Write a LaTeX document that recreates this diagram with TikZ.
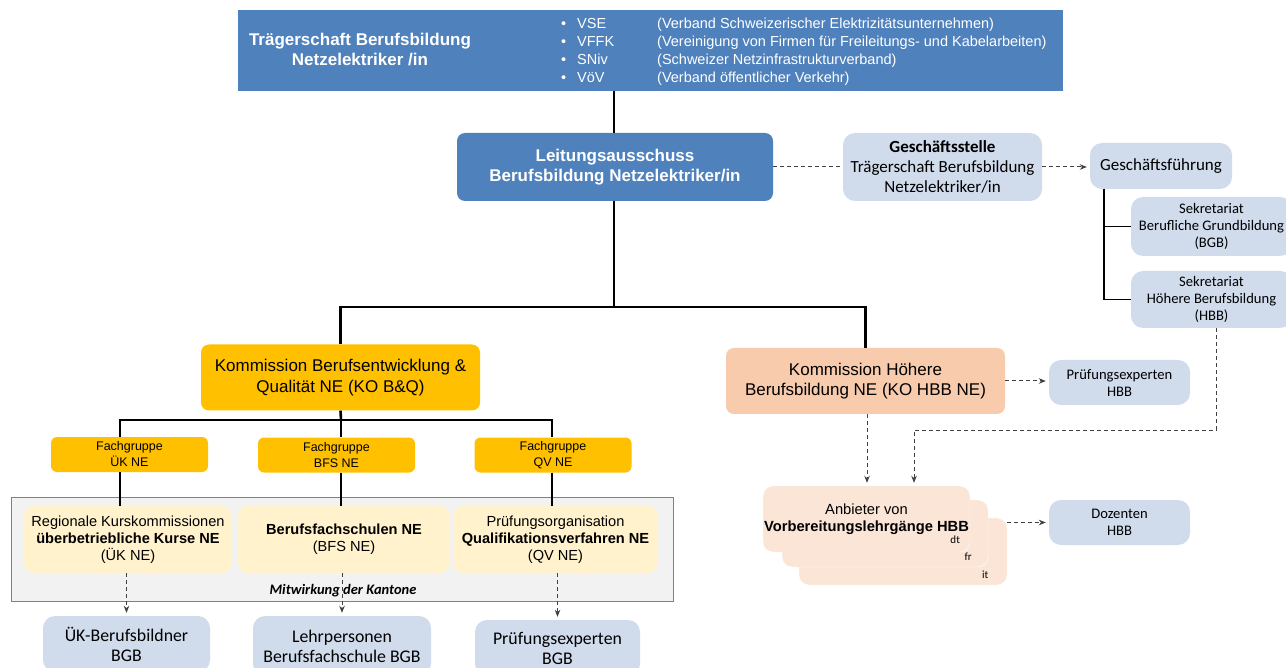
\documentclass[tikz,border=0pt]{standalone}
\usepackage{fontspec}
\setmainfont{Liberation Sans}
\newfontfamily\calibri{Carlito}
\usetikzlibrary{arrows.meta}
\definecolor{tsblue}{RGB}{79,129,189}
\definecolor{paleblue}{RGB}{208,219,236}
\definecolor{kogold}{RGB}{255,192,0}
\definecolor{kopeach}{RGB}{248,203,173}
\definecolor{anbpeach}{RGB}{251,229,214}
\definecolor{creme}{RGB}{255,242,204}
\definecolor{kantgray}{RGB}{242,242,242}
\begin{document}
\begin{tikzpicture}[x=1pt, y=-1pt,
  every node/.style = {align=center, inner sep=0pt},
  bluebox/.style = {fill=tsblue, text=white, rounded corners=8pt,
    font=\bfseries\fontsize{17}{20}\selectfont},
  pale/.style = {fill=paleblue, rounded corners=12pt,
    font=\calibri\fontsize{17}{20}\selectfont},
  palesm/.style = {pale, font=\calibri\fontsize{14.6}{17}\selectfont},
  kobox/.style = {rounded corners=8pt, minimum width=279pt, minimum height=66pt,
    font=\fontsize{17}{20.5}\selectfont},
  fgbox/.style = {fill=kogold, rounded corners=6pt, minimum width=157pt,
    minimum height=35pt, font=\fontsize{12.5}{16}\selectfont},
  crbox/.style = {fill=creme, rounded corners=10pt, minimum height=67pt,
    font=\fontsize{14.6}{17}\selectfont},
  anbbox/.style = {fill=anbpeach, draw=white, rounded corners=10pt,
    minimum width=207pt, minimum height=67pt},
  tiny/.style = {font=\calibri\fontsize{11}{12}\selectfont},
  orgline/.style = {line width=2.6pt},
  thinline/.style = {line width=1.4pt},
  dashline/.style = {draw=black!75, line width=1pt, dash pattern=on 4pt off 3pt},
  dasharr/.style = {dashline, shorten >=3pt, -{Stealth[length=7pt,width=5.5pt]}}]
  \useasboundingbox (0,0) rectangle (1286,668);

  % Traegerschaft
  \node[fill=tsblue, minimum width=825pt, minimum height=81pt] (top) at (650.5,50.5) {};
  \node[text=white, font=\bfseries\fontsize{17}{20}\selectfont] (toptitle) at (360,50)
    {Trägerschaft Berufsbildung\\Netzelektriker /in};
  \node[anchor=west, text=white, align=left, font=\fontsize{14.5}{18}\selectfont] (members) at (561,52)
    {\makebox[16pt][l]{\textbullet}\makebox[80pt][l]{VSE}(Verband Schweizerischer Elektrizitätsunternehmen)\\
     \makebox[16pt][l]{\textbullet}\makebox[80pt][l]{VFFK}(Vereinigung von Firmen für Freileitungs- und Kabelarbeiten)\\
     \makebox[16pt][l]{\textbullet}\makebox[80pt][l]{SNiv}(Schweizer Netzinfrastrukturverband)\\
     \makebox[16pt][l]{\textbullet}\makebox[80pt][l]{VöV}(Verband öffentlicher Verkehr)};

  % Leitung und Geschaeftsstelle
  \node[bluebox, minimum width=316pt, minimum height=68pt] (lei) at (615,167)
    {Leitungsausschuss\\Berufsbildung Netzelektriker/in};
  \node[pale, minimum width=199pt, minimum height=68pt] (gst) at (942.5,167)
    {\textbf{Geschäftsstelle}\\Trägerschaft Berufsbildung\\Netzelektriker/in};
  \node[pale, minimum width=142pt, minimum height=46pt] (gf) at (1161,166) {Geschäftsführung};
  \node[palesm, minimum width=161pt, minimum height=59pt] (sbgb) at (1211.5,226.5)
    {Sekretariat\\Berufliche Grundbildung\\(BGB)};
  \node[palesm, minimum width=161pt, minimum height=57pt] (shbb) at (1211.5,299.5)
    {Sekretariat\\Höhere Berufsbildung\\(HBB)};

  % Kommissionen
  \node[kobox, fill=kogold] (kobq) at (340.5,377.5)
    {Kommission Berufsentwicklung \&\\Qualität NE (KO B\&Q)};
  \node[kobox, fill=kopeach] (kohbb) at (865.5,381)
    {Kommission Höhere\\Berufsbildung NE (KO HBB NE)};
  \node[palesm, minimum width=141pt, minimum height=45pt] (pehbb) at (1119.5,382.5)
    {Prüfungsexperten\\HBB};

  % Fachgruppen
  \node[fgbox] (fguek) at (129.5,454.5) {Fachgruppe\\ÜK NE};
  \node[fgbox] (fgbfs) at (336.5,455) {Fachgruppe\\BFS NE};
  \node[fgbox] (fgqv) at (553,455) {Fachgruppe\\QV NE};

  % Kantone
  \node[fill=kantgray, draw=black!50, line width=0.8pt, minimum width=662pt,
    minimum height=104pt] (kant) at (342,549) {};
  \node[font=\calibri\bfseries\itshape\fontsize{14.5}{16}\selectfont] (kantlbl) at (343,591)
    {Mitwirkung der Kantone};
  \node[crbox, minimum width=208pt] (uek) at (128,539.5)
    {Regionale Kurskommissionen\\\textbf{überbetriebliche Kurse NE}\\(ÜK NE)};
  \node[crbox, minimum width=212pt] (bfs) at (344,539.5)
    {\textbf{Berufsfachschulen NE}\\(BFS NE)};
  \node[crbox, minimum width=205pt] (qv) at (555.5,539.5)
    {Prüfungsorganisation\\\textbf{Qualifikationsverfahren NE}\\(QV NE)};

  \node[pale, font=\calibri\fontsize{17.8}{20}\selectfont, minimum width=167pt,
    minimum height=56pt] (bbuek) at (126.5,644) {ÜK-Berufsbildner\\BGB};
  \node[pale, font=\calibri\fontsize{17.8}{20}\selectfont, minimum width=178pt,
    minimum height=60pt] (lehr) at (342,646) {Lehrpersonen\\Berufsfachschule BGB};
  \node[pale, font=\calibri\fontsize{17.8}{20}\selectfont, minimum width=165pt,
    minimum height=56pt] (pebgb) at (557.5,648) {Prüfungsexperten\\BGB};

  % Anbieter HBB
  \node[anbbox, minimum width=208pt] (anb3) at (903,551.5) {};
  \node[tiny] (anbit) at ([xshift=-22pt,yshift=10pt]anb3.south east) {it};
  \node[anbbox, minimum width=206pt] (anb2) at (885,533.5) {};
  \node[tiny] (anbfr) at ([xshift=-20pt,yshift=10pt]anb2.south east) {fr};
  \node[anbbox, minimum height=66pt, font=\fontsize{14.7}{17}\selectfont] (anb1) at (866.5,519)
    {Anbieter von\\\textbf{Vorbereitungslehrgänge HBB}};
  \node[tiny] (anbdt) at ([xshift=-15pt,yshift=12pt]anb1.south east) {dt};
  \node[palesm, minimum width=141pt, minimum height=45pt] (doz) at (1119.5,522.5) {Dozenten\\HBB};

  % Linien
  \coordinate (split) at (614,307);
  \coordinate (kosplit) at (341,420);
  \coordinate (gfline) at (1104,189);
  \coordinate (hbbturn) at (914,430);
  \draw[orgline] (top.south -| split) -- (lei.north -| split);
  \draw[orgline] (lei.south -| split) -- (split);
  \draw[orgline] (kobq.north) |- (split) -| (kohbb.north);
  \draw[orgline] (kobq.south) -- (kosplit);
  \draw[orgline] (fguek.north -| 120,0) |- (kosplit) -| (fgqv.north -| 552,0);
  \draw[orgline] (kosplit) -- (fgbfs.north -| kosplit);
  \draw[orgline] (fguek.south -| 120,0) -- (uek.north -| 120,0);
  \draw[orgline] (fgbfs.south -| kosplit) -- (bfs.north -| kosplit);
  \draw[orgline] (fgqv.south -| 552,0) -- (qv.north -| 552,0);
  \draw[thinline] (gfline) |- (sbgb.west);
  \draw[thinline] (gfline) |- (shbb.west);

  \draw[dashline] (lei.east) -- (gst.west);
  \draw[dasharr] (gst.east) -- (gst.east -| gf.west);
  \draw[dasharr] (uek.south -| bbuek.north) -- (bbuek.north);
  \draw[dasharr] (bfs.south -| lehr.north) -- (lehr.north);
  \draw[dasharr] (qv.south -| pebgb.north) -- (pebgb.north);
  \draw[dasharr] (kohbb.east) -- (kohbb.east -| pehbb.west);
  \draw[dasharr] (kohbb.south -| 867,0) -- (anb1.north -| 867,0);
  \draw[dasharr] (shbb.south -| 1216,0) |- (hbbturn) -- (anb1.north -| hbbturn);
  \draw[dasharr] (anb3.east |- doz.west) -- (doz.west);
\end{tikzpicture}
\end{document}
